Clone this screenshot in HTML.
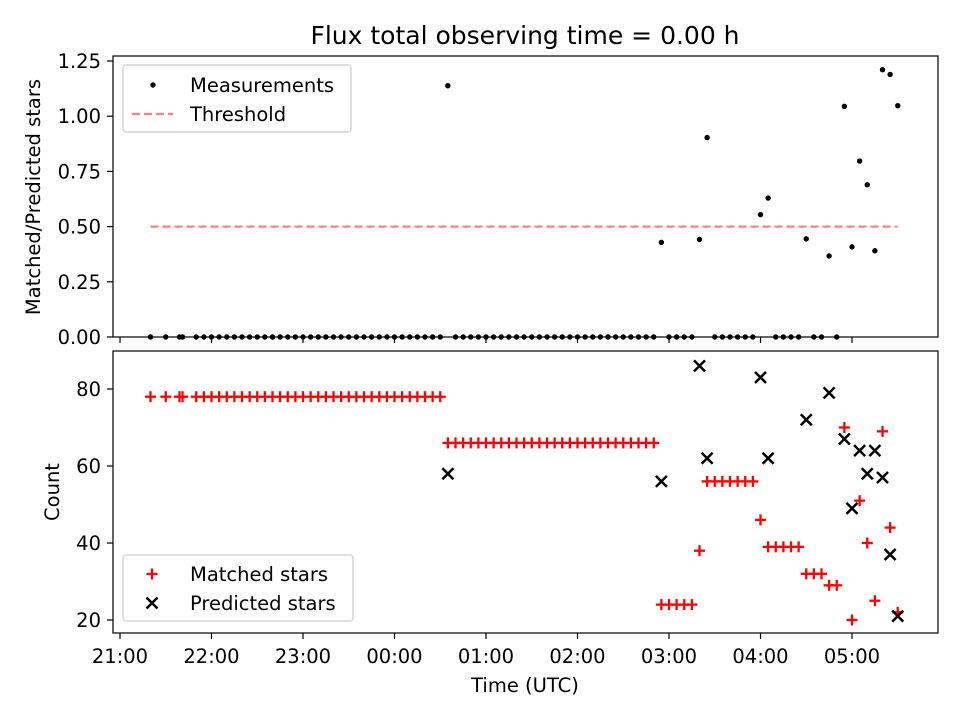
<!DOCTYPE html>
<html><head><meta charset="utf-8"><style>
body{margin:0;background:#fff}
svg{display:block;font-family:"DejaVu Sans","Liberation Sans",sans-serif}
</style></head><body>
<svg id="chart" width="960" height="720"></svg>
<script>
// minutes after 21:00 UTC
const times=[20,30,39,41,50,55,60,65,70,75,80,85,90,95,100,105,110,115,120,125,130,135,140,145,150,155,160,165,170,175,180,185,190,195,200,205,210,
215,220,225,230,235,240,245,250,255,260,265,270,275,280,285,290,295,300,305,310,315,320,325,330,335,340,345,350,
355,360,365,370,375,380,385,390,395,400,405,410,415,420,425,430,435,440,445,450,455,460,465,470,475,480,485,490,495,500,505,510];
const matched=[78,78,78,78,78,78,78,78,78,78,78,78,78,78,78,78,78,78,78,78,78,78,78,78,78,78,78,78,78,78,78,78,78,78,78,78,78,
66,66,66,66,66,66,66,66,66,66,66,66,66,66,66,66,66,66,66,66,66,66,66,66,66,66,66,66,
24,24,24,24,24,38,56,56,56,56,56,56,56,46,39,39,39,39,39,32,32,32,29,29,70,20,51,40,25,69,44,22];
const predicted=[null,null,null,null,null,null,null,null,null,null,null,null,null,null,null,null,null,null,null,null,null,null,null,null,null,null,null,null,null,null,null,null,null,null,null,null,null,
58,null,null,null,null,null,null,null,null,null,null,null,null,null,null,null,null,null,null,null,null,null,null,null,null,null,null,null,
56,null,null,null,null,86,62,null,null,null,null,null,null,83,62,null,null,null,null,72,null,null,79,null,67,49,64,58,64,57,37,21];
const threshold=0.5;
const xTickLabels=["21:00","22:00","23:00","00:00","01:00","02:00","03:00","04:00","05:00"];
const xTickMins=[0,60,120,180,240,300,360,420,480];
const topTicks=[0,0.25,0.5,0.75,1.0,1.25];
const botTicks=[20,40,60,80];

const NS="http://www.w3.org/2000/svg";
const svg=document.getElementById('chart');
const FS='19.5';
function el(t,a,p){const e=document.createElementNS(NS,t);for(const k in a)e.setAttribute(k,a[k]);(p||svg).appendChild(e);return e;}
const X=m=>120+m/60*91.5;
const YT=v=>337-v*220.8;
const YB=v=>620-(v-20)*3.85;
const L=113,R=938,T1=56,B1=337,T2=351,B2=633;

// title
let t=el('text',{x:525,y:44,'text-anchor':'middle','font-size':'25'});t.textContent='Flux total observing time = 0.00 h';


// axes frames
let f1=el('rect',{x:L,y:T1,width:R-L,height:B1-T1,fill:'#fff',stroke:'#000','stroke-width':1.2});

let f2=el('rect',{x:L,y:T2,width:R-L,height:B2-T2,fill:'#fff',stroke:'#000','stroke-width':1.2});


// x ticks
xTickMins.forEach((m,i)=>{
  el('line',{x1:X(m),x2:X(m),y1:B1,y2:B1+6,stroke:'#000','stroke-width':1.2});
  el('line',{x1:X(m),x2:X(m),y1:B2,y2:B2+6,stroke:'#000','stroke-width':1.2});
  const tx=el('text',{x:X(m),y:663,'text-anchor':'middle','font-size':FS});tx.textContent=xTickLabels[i];
  
});
topTicks.forEach(v=>{
  el('line',{x1:L-6,x2:L,y1:YT(v),y2:YT(v),stroke:'#000','stroke-width':1.2});
  const tx=el('text',{x:L-12,y:YT(v)+7,'text-anchor':'end','font-size':FS});tx.textContent=v.toFixed(2);
  
});
botTicks.forEach(v=>{
  el('line',{x1:L-6,x2:L,y1:YB(v),y2:YB(v),stroke:'#000','stroke-width':1.2});
  const tx=el('text',{x:L-12,y:YB(v)+7,'text-anchor':'end','font-size':FS});tx.textContent=v;
  
});
let xt=el('text',{x:525,y:692,'text-anchor':'middle','font-size':FS});xt.textContent='Time (UTC)';

let y1t=el('text',{x:0,y:0,transform:'translate(40,197) rotate(-90)','text-anchor':'middle','font-size':FS});y1t.textContent='Matched/Predicted stars';

let y2t=el('text',{x:0,y:0,transform:'translate(59,492) rotate(-90)','text-anchor':'middle','font-size':FS});y2t.textContent='Count';


// threshold
let th=el('line',{x1:X(times[0]),x2:X(times[times.length-1]),y1:YT(threshold),y2:YT(threshold),stroke:'#ff8080','stroke-width':2.2,'stroke-dasharray':'8,4'});


// top measurements
times.forEach((m,i)=>{
  const r=predicted[i]?matched[i]/predicted[i]:0;
  const c=el('circle',{cx:X(m),cy:YT(r),r:2.7,fill:'#000'});
  
});
function plus(x,y,col,name){const g=el('g',{stroke:col,'stroke-width':2.3});
  el('line',{x1:x-5.5,x2:x+5.5,y1:y,y2:y},g);el('line',{x1:x,x2:x,y1:y-5.5,y2:y+5.5},g);
  return g;}
function cross(x,y,col,name){const g=el('g',{stroke:col,'stroke-width':2.5});
  el('line',{x1:x-5.5,x2:x+5.5,y1:y-5.5,y2:y+5.5},g);el('line',{x1:x-5.5,x2:x+5.5,y1:y+5.5,y2:y-5.5},g);
  return g;}
times.forEach((m,i)=>{plus(X(m),YB(matched[i]),'#ff0000','matched-star-marker');});
times.forEach((m,i)=>{if(predicted[i]!=null)cross(X(m),YB(predicted[i]),'#000','predicted-star-marker');});

// legends
let lg1=el('g',{});
el('rect',{x:123,y:65,width:228,height:67,rx:3,fill:'#fff','fill-opacity':0.8,stroke:'#ccc','stroke-width':1.2},lg1);
el('circle',{cx:153,cy:85,r:2.7,fill:'#000'},lg1);
let a=el('text',{x:190,y:92,'font-size':FS},lg1);a.textContent='Measurements';
el('line',{x1:132,x2:173,y1:114,y2:114,stroke:'#ff8080','stroke-width':2.2,'stroke-dasharray':'8,4'},lg1);
a=el('text',{x:190,y:121,'font-size':FS},lg1);a.textContent='Threshold';
let lg2=el('g',{});
el('rect',{x:123,y:555,width:230,height:66,rx:3,fill:'#fff','fill-opacity':0.8,stroke:'#ccc','stroke-width':1.2},lg2);
plus(152,574,'#ff0000','legend-matched-marker');
a=el('text',{x:190,y:581,'font-size':FS},lg2);a.textContent='Matched stars';
cross(152,603,'#000','legend-predicted-marker');
a=el('text',{x:190,y:610,'font-size':FS},lg2);a.textContent='Predicted stars';
</script>
</body></html>
